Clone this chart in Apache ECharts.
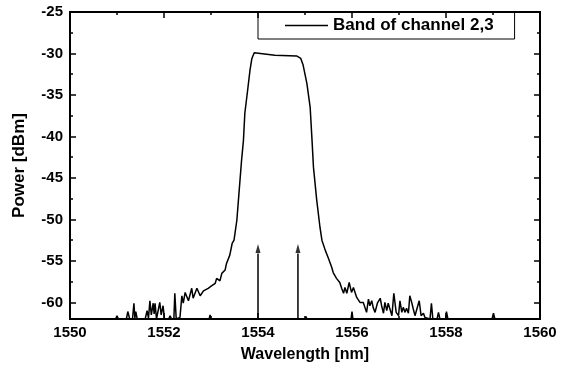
<!DOCTYPE html>
<html>
<head>
<meta charset="utf-8">
<script src="https://cdn.jsdelivr.net/npm/echarts@6/dist/echarts.min.js"></script>
<style>
  html, body { margin: 0; padding: 0; background: #fff; }
  #chart { width: 566px; height: 373px; }
</style>
</head>
<body>
<div id="chart"></div>
<script>
// Optical spectrum of the filtered band (channels 2 and 3)
const seriesName = 'Band of channel 2,3';

// Trace samples: wavelength [nm] and power [dBm]
const wavelength = [
  1550.00, 1550.97, 1551.00, 1551.03, 1551.20, 1551.23, 1551.27, 1551.33, 1551.36, 1551.38,
  1551.40, 1551.43, 1551.60, 1551.64, 1551.67, 1551.70, 1551.73, 1551.77, 1551.79, 1551.81,
  1551.84, 1551.88, 1551.91, 1551.94, 1551.98, 1552.01, 1552.10, 1552.13, 1552.16, 1552.21,
  1552.23, 1552.26, 1552.34, 1552.38, 1552.41, 1552.45, 1552.52, 1552.59, 1552.62, 1552.70,
  1552.77, 1552.84, 1552.94, 1553.01, 1553.09, 1553.12, 1553.19, 1553.23, 1553.30, 1553.33,
  1553.40, 1553.45, 1553.49, 1553.55, 1553.60, 1553.65, 1553.69, 1553.72, 1553.78, 1553.83,
  1553.87, 1553.92, 1554.36, 1554.82, 1554.91, 1554.96, 1555.04, 1555.11, 1555.15, 1555.18,
  1555.25, 1555.32, 1555.36, 1555.43, 1555.50, 1555.57, 1555.60, 1555.67, 1555.74, 1555.78,
  1555.82, 1555.85, 1555.89, 1555.94, 1555.99, 1556.03, 1556.10, 1556.17, 1556.24, 1556.31,
  1556.35, 1556.38, 1556.42, 1556.45, 1556.49, 1556.54, 1556.60, 1556.63, 1556.67, 1556.70,
  1556.74, 1556.77, 1556.85, 1556.89, 1556.94, 1556.99, 1557.02, 1557.06, 1557.09, 1557.13,
  1557.16, 1557.20, 1557.23, 1557.27, 1557.30, 1557.34, 1557.38, 1557.43, 1557.47, 1557.52,
  1557.55, 1557.66, 1557.69, 1557.72, 1557.81, 1557.84, 1557.87, 1557.99, 1558.01, 1558.04,
  1558.98, 1559.01, 1559.04, 1560.00
];
const power = [
  -62.0, -62.0, -61.6, -62.0, -62.0, -61.1, -62.0, -62.0, -60.1, -61.9,
  -61.1, -62.0, -62.0, -61.0, -61.9, -59.8, -61.5, -60.1, -61.4, -60.1,
  -62.0, -62.0, -60.0, -61.5, -60.4, -62.0, -62.0, -61.6, -62.0, -62.0,
  -58.9, -62.0, -61.8, -59.2, -60.1, -58.8, -59.8, -58.3, -59.5, -58.3,
  -59.2, -58.6, -58.3, -58.0, -57.7, -57.1, -57.4, -56.5, -56.1, -55.3,
  -54.3, -52.9, -52.5, -50.1, -46.5, -42.9, -40.5, -37.2, -34.4, -32.0,
  -30.6, -29.9, -30.2, -30.3, -30.6, -31.4, -33.6, -36.5, -40.5, -43.7,
  -47.7, -51.0, -52.5, -53.7, -54.7, -55.8, -56.4, -57.1, -57.6, -58.3,
  -58.9, -58.2, -58.9, -57.6, -58.8, -58.2, -59.4, -60.0, -60.0, -61.2,
  -59.6, -60.4, -59.8, -60.6, -61.2, -60.1, -59.5, -60.4, -61.3, -60.0,
  -61.0, -60.1, -61.6, -58.9, -61.2, -61.6, -59.8, -61.2, -60.6, -61.2,
  -60.7, -61.3, -59.2, -60.0, -60.7, -61.6, -61.6, -59.8, -61.6, -61.3,
  -61.8, -62.0, -60.1, -62.0, -62.0, -61.2, -62.0, -62.0, -61.1, -62.0,
  -62.0, -61.3, -62.0, -62.0
];

// Isolated blips on the noise floor
const blipWavelength = [1552.98, 1555.02, 1556.00];
const blipPower = [-61.5, -61.7, -61.1];

// Channel markers (arrows) at the two carrier wavelengths
const arrowWavelength = [1554.00, 1554.85];
const arrowTop = -53.5;

// Axis ranges and ticks
const xMin = 1550, xMax = 1560, xStep = 2;
const yMin = -62, yMax = -25;
const yMajorTicks = [-60, -55, -50, -45, -40, -35, -30, -25];
const yMinorTicks = [-57.5, -52.5, -47.5, -42.5, -37.5, -32.5, -27.5];

const trace = wavelength.map((w, i) => [w, power[i]]);

const blips = [];
blipWavelength.forEach((w, i) => {
  blips.push([w - 0.02, yMin], [w, blipPower[i]], [w + 0.02, yMin], [w, '-']);
});

const arrowShafts = [];
arrowWavelength.forEach(w => {
  arrowShafts.push([w, yMin], [w, arrowTop - 0.6], [w, '-']);
});
const arrowHeads = arrowWavelength.map(w => [w, arrowTop]);

const font = '"Liberation Sans", Arial, Helvetica, sans-serif';
const black = '#000';
const frameLine = { show: true, onZero: false, lineStyle: { color: black, width: 2 } };
const tickStyle = { color: black, width: 1.5 };
const boldText = { color: black, fontSize: 16, fontWeight: 'bold', fontFamily: font };

function xAxisDef(position, withLabels) {
  const a = {
    type: 'value', min: xMin, max: xMax, interval: xStep, position: position,
    axisLine: frameLine,
    axisTick: { show: true, inside: true, length: 6, lineStyle: tickStyle },
    minorTick: { show: true, splitNumber: 2, length: 3, lineStyle: tickStyle },
    splitLine: { show: false },
    axisLabel: withLabels
      ? { color: black, fontSize: 15, fontWeight: 'bold', fontFamily: font, margin: 6,
          formatter: v => String(v) }
      : { show: false }
  };
  if (withLabels) {
    a.name = 'Wavelength [nm]';
    a.nameLocation = 'middle';
    a.nameGap = 28;
    a.nameTextStyle = boldText;
  }
  return a;
}

function yAxisDef(position, ticks, len, withLabels) {
  const a = {
    type: 'value', min: yMin, max: yMax, position: position,
    axisLine: frameLine,
    axisTick: { show: true, inside: true, length: len, lineStyle: tickStyle, customValues: ticks },
    splitLine: { show: false },
    axisLabel: withLabels
      ? { color: black, fontSize: 15, fontWeight: 'bold', fontFamily: font, margin: 7,
          customValues: ticks }
      : { show: false }
  };
  if (withLabels) {
    a.name = 'Power [dBm]';
    a.nameLocation = 'middle';
    a.nameGap = 42;
    a.nameTextStyle = Object.assign({}, boldText, { fontSize: 17 });
  }
  return a;
}

const chart = echarts.init(document.getElementById('chart'), null, { renderer: 'canvas' });
chart.setOption({
  animation: false,
  backgroundColor: '#fff',
  grid: { left: 70, right: 26, top: 12, bottom: 54, containLabel: false },
  legend: {
    data: [seriesName],
    left: 258,
    top: 12,
    padding: [5, 21, 5, 27],
    icon: 'rect',
    itemWidth: 43,
    itemHeight: 1.5,
    itemGap: 4,
    borderColor: black,
    borderWidth: 1,
    borderRadius: 0,
    textStyle: Object.assign({}, boldText, { fontSize: 17 })
  },
  xAxis: [xAxisDef('bottom', true), xAxisDef('top', false)],
  yAxis: [
    yAxisDef('left', yMajorTicks, 6, true),
    yAxisDef('left', yMinorTicks, 3, false),
    yAxisDef('right', yMajorTicks, 6, false),
    yAxisDef('right', yMinorTicks, 3, false)
  ],
  series: [
    {
      name: seriesName,
      type: 'line',
      data: trace,
      symbol: 'none',
      lineStyle: { color: black, width: 1.5 },
      itemStyle: { color: black },
      z: 3
    },
    {
      name: 'floor',
      type: 'line',
      data: blips,
      symbol: 'none',
      connectNulls: false,
      lineStyle: { color: black, width: 1.5 },
      z: 3
    },
    {
      name: 'markers',
      type: 'line',
      data: arrowShafts,
      symbol: 'none',
      connectNulls: false,
      lineStyle: { color: black, width: 1.5 },
      z: 3
    },
    {
      name: 'markerHeads',
      type: 'scatter',
      data: arrowHeads,
      symbol: 'triangle',
      symbolSize: [5, 9],
      itemStyle: { color: black },
      z: 4
    }
  ]
});
</script>
</body>
</html>
